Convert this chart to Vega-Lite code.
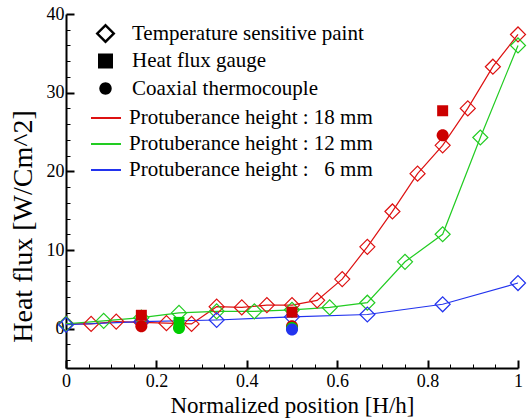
{
  "$schema": "https://vega.github.io/schema/vega-lite/v6.json",
  "width": 452,
  "height": 354,
  "autosize": "none",
  "padding": {"left": 66, "top": 14, "right": 10, "bottom": 52},
  "background": "white",
  "config": {
    "view": {"stroke": null},
    "font": "Liberation Serif",
    "axis": {"labelFont": "Liberation Serif", "titleFont": "Liberation Serif", "labelColor": "black", "titleColor": "black", "titleFontWeight": "normal", "domainColor": "black", "domainWidth": 2, "tickColor": "black", "grid": false, "labelOverlap": false},
    "legend": {"labelFont": "Liberation Serif", "labelFontSize": 21, "labelColor": "black", "padding": 0, "labelLimit": 500}
  },
  "datasets": {
    "tsp": [
      {"x": 0, "y": 0.6, "series": "Protuberance height : 18 mm"},
      {"x": 0.0556, "y": 0.6, "series": "Protuberance height : 18 mm"},
      {"x": 0.1111, "y": 0.9, "series": "Protuberance height : 18 mm"},
      {"x": 0.1667, "y": 0.8, "series": "Protuberance height : 18 mm"},
      {"x": 0.2222, "y": 0.7, "series": "Protuberance height : 18 mm"},
      {"x": 0.2778, "y": 0.6, "series": "Protuberance height : 18 mm"},
      {"x": 0.3333, "y": 2.8, "series": "Protuberance height : 18 mm"},
      {"x": 0.3889, "y": 2.7, "series": "Protuberance height : 18 mm"},
      {"x": 0.4444, "y": 3.0, "series": "Protuberance height : 18 mm"},
      {"x": 0.5, "y": 3.0, "series": "Protuberance height : 18 mm"},
      {"x": 0.5556, "y": 3.6, "series": "Protuberance height : 18 mm"},
      {"x": 0.6111, "y": 6.3, "series": "Protuberance height : 18 mm"},
      {"x": 0.6667, "y": 10.4, "series": "Protuberance height : 18 mm"},
      {"x": 0.7222, "y": 14.9, "series": "Protuberance height : 18 mm"},
      {"x": 0.7778, "y": 19.7, "series": "Protuberance height : 18 mm"},
      {"x": 0.8333, "y": 23.3, "series": "Protuberance height : 18 mm"},
      {"x": 0.8889, "y": 28.0, "series": "Protuberance height : 18 mm"},
      {"x": 0.9444, "y": 33.3, "series": "Protuberance height : 18 mm"},
      {"x": 1, "y": 37.4, "series": "Protuberance height : 18 mm"},
      {"x": 0, "y": 0.6, "series": "Protuberance height : 12 mm"},
      {"x": 0.0833, "y": 1.0, "series": "Protuberance height : 12 mm"},
      {"x": 0.1667, "y": 1.4, "series": "Protuberance height : 12 mm"},
      {"x": 0.25, "y": 2.0, "series": "Protuberance height : 12 mm"},
      {"x": 0.3333, "y": 2.2, "series": "Protuberance height : 12 mm"},
      {"x": 0.4167, "y": 2.2, "series": "Protuberance height : 12 mm"},
      {"x": 0.5, "y": 2.4, "series": "Protuberance height : 12 mm"},
      {"x": 0.5833, "y": 2.7, "series": "Protuberance height : 12 mm"},
      {"x": 0.6667, "y": 3.3, "series": "Protuberance height : 12 mm"},
      {"x": 0.75, "y": 8.5, "series": "Protuberance height : 12 mm"},
      {"x": 0.8333, "y": 12.0, "series": "Protuberance height : 12 mm"},
      {"x": 0.9167, "y": 24.3, "series": "Protuberance height : 12 mm"},
      {"x": 1, "y": 36.0, "series": "Protuberance height : 12 mm"},
      {"x": 0, "y": 0.5, "series": "Protuberance height :\u00a0\u00a0 6 mm"},
      {"x": 0.1667, "y": 0.9, "series": "Protuberance height :\u00a0\u00a0 6 mm"},
      {"x": 0.3333, "y": 1.1, "series": "Protuberance height :\u00a0\u00a0 6 mm"},
      {"x": 0.5, "y": 1.5, "series": "Protuberance height :\u00a0\u00a0 6 mm"},
      {"x": 0.6667, "y": 1.8, "series": "Protuberance height :\u00a0\u00a0 6 mm"},
      {"x": 0.8333, "y": 3.1, "series": "Protuberance height :\u00a0\u00a0 6 mm"},
      {"x": 1, "y": 5.8, "series": "Protuberance height :\u00a0\u00a0 6 mm"}
    ],
    "probes": [
      {"x": 0.1667, "y": 1.7, "series": "Protuberance height : 18 mm", "type": "Heat flux gauge"},
      {"x": 0.25, "y": 0.8, "series": "Protuberance height : 12 mm", "type": "Heat flux gauge"},
      {"x": 0.5, "y": 2.1, "series": "Protuberance height : 18 mm", "type": "Heat flux gauge"},
      {"x": 0.8333, "y": 27.7, "series": "Protuberance height : 18 mm", "type": "Heat flux gauge"},
      {"x": 0.1667, "y": 0.3, "series": "Protuberance height : 18 mm", "type": "Coaxial thermocouple"},
      {"x": 0.25, "y": 0.1, "series": "Protuberance height : 12 mm", "type": "Coaxial thermocouple"},
      {"x": 0.5, "y": 0.3, "series": "Protuberance height : 18 mm", "type": "Coaxial thermocouple"},
      {"x": 0.5, "y": 0.1, "series": "Protuberance height : 12 mm", "type": "Coaxial thermocouple"},
      {"x": 0.5, "y": -0.1, "series": "Protuberance height :\u00a0\u00a0 6 mm", "type": "Coaxial thermocouple"},
      {"x": 0.8333, "y": 24.6, "series": "Protuberance height : 18 mm", "type": "Coaxial thermocouple"}
    ]
  },
  "encoding": {
    "x": {
      "field": "x", "type": "quantitative",
      "scale": {"domain": [0, 1], "nice": false, "zero": false},
      "axis": {
        "title": "Normalized position [H/h]",
        "titleFontSize": 23,
        "titleY": 37, "titleBaseline": "middle",
        "values": [0,0.05,0.1,0.15,0.2,0.25,0.3,0.35,0.4,0.45,0.5,0.55,0.6,0.65,0.7,0.75,0.8,0.85,0.9,0.95,1],
        "labelExpr": "abs(datum.value*5 - round(datum.value*5)) < 0.001 ? format(datum.value, '.1~f') : ''",
        "labelFontSize": 18,
        "labelPadding": 12,
        "labelFlush": false,
        "tickSize": {"condition": {"test": "abs(datum.value*5 - round(datum.value*5)) < 0.001", "value": -8}, "value": -4},
        "tickWidth": {"condition": {"test": "abs(datum.value*5 - round(datum.value*5)) < 0.001", "value": 2}, "value": 1}
      }
    },
    "y": {
      "field": "y", "type": "quantitative",
      "scale": {"domain": [-5, 40], "nice": false, "zero": false},
      "axis": {
        "title": "Heat flux [W/Cm^2]",
        "titleFontSize": 28,
        "titleX": -43, "titleY": 212, "titleBaseline": "middle",
        "values": [-4,-2,0,2,4,6,8,10,12,14,16,18,20,22,24,26,28,30,32,34,36,38,40],
        "labelExpr": "datum.value % 10 == 0 ? format(datum.value, 'd') : ''",
        "labelFontSize": 18,
        "labelPadding": 10,
        "labelFlush": false,
        "tickSize": {"condition": {"test": "datum.value % 10 == 0", "value": -8}, "value": -4},
        "tickWidth": {"condition": {"test": "datum.value % 10 == 0", "value": 2}, "value": 1}
      }
    }
  },
  "layer": [
    {
      "data": {"name": "tsp"},
      "mark": {"type": "line", "strokeWidth": 1.2},
      "encoding": {
        "color": {
          "field": "series", "type": "nominal",
          "scale": {"domain": ["Protuberance height : 18 mm", "Protuberance height : 12 mm", "Protuberance height :\u00a0\u00a0 6 mm"], "range": ["#dd1111", "#22cc22", "#2233ee"]},
          "legend": {"title": null, "orient": "none", "legendX": 24, "legendY": 88, "symbolType": "stroke", "symbolSize": 900, "symbolStrokeWidth": 2, "labelOffset": 7, "rowPadding": -0.5}
        }
      }
    },
    {
      "data": {"name": "tsp"},
      "mark": {"type": "point", "shape": "diamond", "filled": false, "strokeWidth": 1.2, "size": 225, "opacity": 1},
      "encoding": {
        "stroke": {
          "field": "series", "type": "nominal",
          "scale": {"domain": ["Protuberance height : 18 mm", "Protuberance height : 12 mm", "Protuberance height :\u00a0\u00a0 6 mm"], "range": ["#dd1111", "#22cc22", "#2233ee"]},
          "legend": null
        }
      }
    },
    {
      "data": {"name": "probes"},
      "transform": [{"filter": "datum.type == 'Heat flux gauge'"}],
      "mark": {"type": "point", "filled": true, "size": 215, "opacity": 1},
      "encoding": {
        "fill": {
          "field": "series", "type": "nominal",
          "scale": {"domain": ["Protuberance height : 18 mm", "Protuberance height : 12 mm", "Protuberance height :\u00a0\u00a0 6 mm"], "range": ["#cc0000", "#00cc00", "#2233ee"]},
          "legend": null
        },
        "shape": {
          "field": "type", "type": "nominal",
          "scale": {
            "domain": ["Temperature sensitive paint", "Heat flux gauge", "Coaxial thermocouple"],
            "range": [
              "M0,-1L1,0L0,1L-1,0ZM0,-0.66L-0.66,0L0,0.66L0.66,0Z",
              "M-0.75,-0.75L0.75,-0.75L0.75,0.75L-0.75,0.75Z",
              "M-0.62,0A0.62,0.62 0 1,0 0.62,0A0.62,0.62 0 1,0 -0.62,0Z"
            ]
          },
          "legend": {"title": null, "orient": "none", "legendX": 29, "legendY": 9, "symbolSize": 400, "symbolFillColor": "black", "symbolStrokeWidth": 0, "labelOffset": 16, "rowPadding": 5.5}
        }
      }
    },
    {
      "data": {"name": "probes"},
      "transform": [{"filter": "datum.type == 'Coaxial thermocouple'"}],
      "mark": {"type": "point", "filled": true, "size": 375, "opacity": 1},
      "encoding": {
        "fill": {
          "field": "series", "type": "nominal",
          "scale": {"domain": ["Protuberance height : 18 mm", "Protuberance height : 12 mm", "Protuberance height :\u00a0\u00a0 6 mm"], "range": ["#cc0000", "#00cc00", "#2233ee"]},
          "legend": null
        },
        "shape": {"field": "type", "type": "nominal"}
      }
    }
  ]
}
